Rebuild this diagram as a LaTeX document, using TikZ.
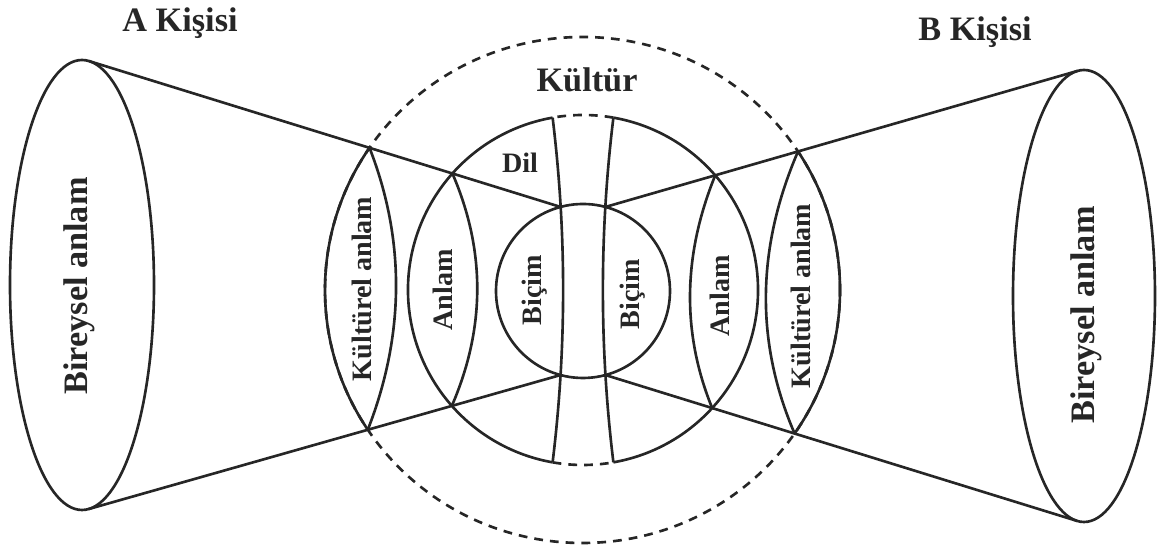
\documentclass[tikz,border=0pt]{standalone}
\usepackage{fontspec}
\setmainfont{Liberation Serif}
\usetikzlibrary{intersections}

\begin{document}
\begin{tikzpicture}[
    solidln/.style={draw=black!85, line width=1.5pt},
    dashln/.style={solidln, dash pattern=on 5pt off 4pt},
    bigtxt/.style={font=\fontsize{19.5}{22}\selectfont\bfseries, text=black!85},
    smalltxt/.style={font=\fontsize{16}{19}\selectfont\bfseries, text=black!85},
    vert/.style={rotate=90}
]
\useasboundingbox (0,0) rectangle (23.14,10.98);

% centres
\coordinate (C) at (11.65,5.18);   % Kultur
\coordinate (M) at (11.66,5.18);   % Dil
\coordinate (I) at (11.66,5.16);   % Bicim
\coordinate (EA) at (1.64,5.28);
\coordinate (EB) at (21.68,5.06);

% tangent points and inner points
\coordinate (P1) at (1.782,9.758);
\coordinate (P2) at (1.770,0.798);
\coordinate (R1) at (21.552,9.562);
\coordinate (R2) at (21.543,0.561);
\coordinate (Q1) at (11.214,6.84);
\coordinate (Q2) at (11.214,3.48);
\coordinate (Q3) at (12.106,6.84);
\coordinate (Q4) at (12.106,3.48);

% persons
\draw[solidln] (EA) ellipse [x radius=1.44, y radius=4.5];
\draw[solidln] (EB) ellipse [x radius=1.42, y radius=4.52];

% culture circle, solid inside the cones
\draw[dashln, name path=bigc] (C) ellipse [x radius=5.15, y radius=5.06];
\begin{scope}
  \clip (P1) -- (Q1) -- (Q3) -- (R1) -- (R2) -- (Q4) -- (Q2) -- (P2) -- cycle;
  \draw[solidln] (C) ellipse [x radius=5.15, y radius=5.06];
\end{scope}

% language circle
\path[name path=midc] (M) circle [radius=3.5];
\path (M) ++(100:3.5) coordinate (T1);
\path (M) ++(80:3.5) coordinate (T2);
\path (M) ++(260:3.5) coordinate (U1);
\path (M) ++(280:3.5) coordinate (U2);
\draw[solidln] (T1) arc [start angle=100, end angle=260, radius=3.5];
\draw[solidln] (U2) arc [start angle=-80, end angle=80, radius=3.5];
\draw[dashln] (T2) arc [start angle=80, end angle=100, radius=3.5];
\draw[dashln] (U1) arc [start angle=260, end angle=280, radius=3.5];
\draw[solidln] (T1) .. controls +(0.28,-2.3) and +(0.28,2.3) .. (U1);
\draw[solidln] (T2) .. controls +(-0.28,-2.3) and +(-0.28,2.3) .. (U2);

% form circle
\draw[solidln] (I) circle [radius=1.74];

% cone lines
\draw[solidln, name path=la] (P1) -- (Q1);
\draw[solidln, name path=lb] (P2) -- (Q2);
\draw[solidln, name path=lc] (R1) -- (Q3);
\draw[solidln, name path=ld] (R2) -- (Q4);

\path[name intersections={of=la and bigc, by=A1}];
\path[name intersections={of=lb and bigc, by=A2}];
\path[name intersections={of=lc and bigc, by=B1}];
\path[name intersections={of=ld and bigc, by=B2}];
\path[name intersections={of=la and midc, by=D1}];
\path[name intersections={of=lb and midc, by=D2}];
\path[name intersections={of=lc and midc, by=E1}];
\path[name intersections={of=ld and midc, by=E2}];

% lens arcs
\draw[solidln] (A1) .. controls +(0.73,-1.87) and +(0.73,1.87) .. (A2);
\draw[solidln] (D1) .. controls +(0.67,-1.55) and +(0.67,1.55) .. (D2);
\draw[solidln] (E1) .. controls +(-0.63,-1.55) and +(-0.63,1.55) .. (E2);
\draw[solidln] (B1) .. controls +(-0.81,-1.88) and +(-0.81,1.88) .. (B2);

% labels
\node[bigtxt] (akisi) at (3.60,10.52) {A Kişisi};
\node[bigtxt] (bkisi) at (19.50,10.34) {B Kişisi};
\node[bigtxt] (kultur) at (11.74,9.38) {Kültür};
\node[smalltxt] (dil) at (10.40,7.72) {Dil};
\node[bigtxt, vert] (bireyA) at (1.59,5.26) {Bireysel anlam};
\node[bigtxt, vert] (bireyB) at (21.73,4.68) {Bireysel anlam};
\node[smalltxt, vert] (kulA) at (7.24,5.20) {Kültürel anlam};
\node[smalltxt, vert] (kulB) at (16.02,5.06) {Kültürel anlam};
\node[smalltxt, vert] (anlA) at (8.86,5.18) {Anlam};
\node[smalltxt, vert] (anlB) at (14.40,5.06) {Anlam};
\node[smalltxt, vert] (bicA) at (10.69,5.18) {Biçim};
\node[smalltxt, vert] (bicB) at (12.65,5.10) {Biçim};
\end{tikzpicture}
\end{document}
